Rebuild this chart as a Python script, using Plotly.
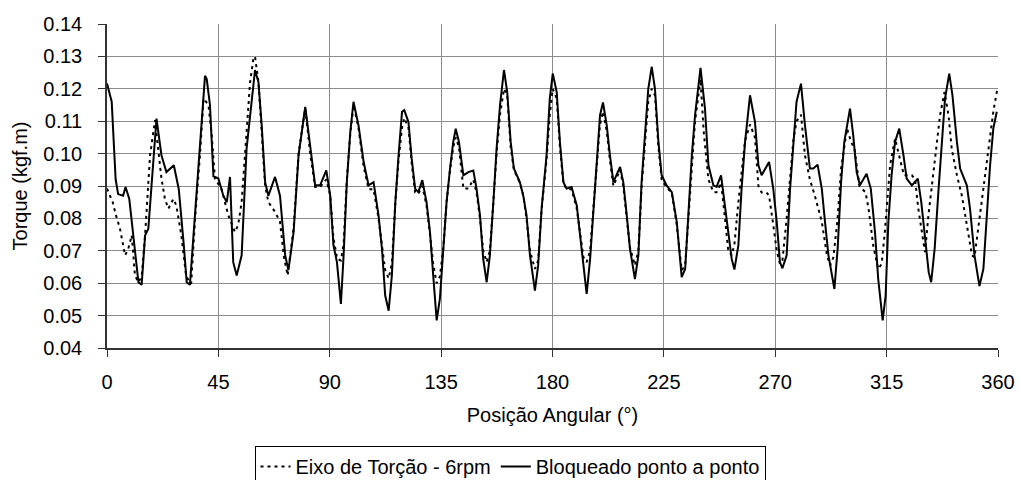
import plotly.graph_objects as go

# --- Data: Bloqueado ponto a ponto (solid) ---
angle_solid = [0, 1.9, 3.5, 4.5, 6.5, 7.5, 9, 11, 12.7, 14, 15.4, 16.7, 18.5, 20, 22, 24, 27, 29, 31, 32.2,
               33.5, 35.6, 37.6, 39.6, 40.3, 41.6, 43, 45, 47, 48.4, 49.7, 51, 52.4, 54.4, 56.4, 57.8, 59.8,
               61.2, 62.5, 63.9, 65.2, 67.9, 69.9, 72, 73.3, 75.4, 77.4, 80.1, 82.1, 84.1, 86.1, 88.6, 90.2,
               91.5, 92.9, 94.5, 95.6, 96.9, 98.3, 99.6, 101.6, 103.7, 105.7, 107.7, 109.7, 111.1, 112.4,
               113.8, 115.1, 116.5, 117.8, 119.2, 120.1, 121.8, 123.1, 124.5, 125.8, 127.4, 129.1, 130.5,
               131.8, 133.2, 134.5, 135.9, 137.2, 138.6, 139.9, 140.9, 142.2, 144, 146, 148, 149.3, 150.7,
               152, 153.4, 154.7, 156.1, 157.4, 158.8, 160.4, 161.7, 163.1, 164.4, 166.8, 168.2, 169.5,
               170.9, 172.9, 174.2, 175.6, 177.6, 178.9, 180.1, 181.7, 183, 184.4, 185.7, 187.7, 189.8,
               191.1, 192.5, 193.8, 195.2, 196.5, 197.9, 199.2, 200.4, 201.9, 203.2, 204.6, 207.3, 208.6,
               210, 211.3, 213.3, 214.7, 216, 217.4, 218.7, 220.1, 221.4, 222.8, 224.1, 226.1, 228.2, 230.2,
               231.5, 232.2, 233.6, 234.9, 236.3, 237.6, 239.8, 241.6, 243, 245, 246.3, 248.1, 249.7, 251,
               252.4, 253.5, 255.1, 256.4, 257.8, 259.8, 261.8, 263.2, 264.5, 267.5, 269.2, 270.6, 271.9,
               272.9, 274.6, 276, 277.3, 278.6, 280.4, 282, 284, 285.4, 287.1, 288.8, 290.1, 291.5, 293.9,
               295.2, 296.6, 297.9, 300.2, 301.5, 302.9, 304.2, 306.9, 308.6, 310.3, 311.6, 313.4, 314.6,
               315.7, 317, 318.4, 320.1, 321.8, 323.1, 325.2, 327.6, 329, 330.6, 332, 333, 334.4, 336,
               337.3, 338.6, 340.3, 341.6, 343.4, 344.7, 347.4, 348.7, 350.5, 352.5, 354.1, 355.4, 356.8,
               358.1, 359.5]
torque_solid = [0.1216, 0.116, 0.092, 0.0875, 0.087, 0.0897, 0.086, 0.072, 0.0603, 0.0595, 0.0748, 0.0768,
                0.095, 0.1108, 0.0995, 0.0943, 0.0964, 0.089, 0.072, 0.0603, 0.0595, 0.081, 0.1015, 0.124,
                0.123, 0.115, 0.093, 0.0923, 0.087, 0.085, 0.0928, 0.0665, 0.0624, 0.0686, 0.1015, 0.112,
                0.1258, 0.122, 0.1088, 0.0912, 0.087, 0.0928, 0.087, 0.0686, 0.064, 0.0758, 0.0995, 0.1144,
                0.1015, 0.0902, 0.0902, 0.0948, 0.087, 0.0717, 0.0665, 0.0536, 0.0686, 0.0912, 0.1067,
                0.116, 0.1088, 0.0974, 0.0902, 0.0912, 0.081, 0.0706, 0.0562, 0.0515, 0.0624, 0.085,
                0.0995, 0.1129, 0.1134, 0.1098, 0.0985, 0.0892, 0.0881, 0.0918, 0.085, 0.0758, 0.0624,
                0.0485, 0.0552, 0.0706, 0.085, 0.0954, 0.1036, 0.1077, 0.1036, 0.0933, 0.0943, 0.0948,
                0.0892, 0.081, 0.0675, 0.0603, 0.0686, 0.085, 0.1015, 0.115, 0.1258, 0.119, 0.1036, 0.0954,
                0.0912, 0.087, 0.081, 0.0686, 0.0577, 0.0655, 0.083, 0.0995, 0.117, 0.1247, 0.119, 0.1036,
                0.0912, 0.0892, 0.0897, 0.084, 0.0747, 0.0644, 0.0567, 0.0675, 0.083, 0.0985, 0.1119,
                0.1158, 0.1088, 0.0995, 0.0912, 0.0959, 0.0912, 0.081, 0.0706, 0.0613, 0.0686, 0.0912,
                0.1077, 0.12, 0.1268, 0.12, 0.1036, 0.0933, 0.0902, 0.0881, 0.0789, 0.0686, 0.0619, 0.0644,
                0.081, 0.0995, 0.1119, 0.1265, 0.114, 0.0964, 0.0902, 0.0897, 0.0933, 0.083, 0.0747,
                0.0675, 0.0642, 0.0717, 0.0892, 0.1036, 0.118, 0.1098, 0.0964, 0.0933, 0.0974, 0.0892,
                0.0789, 0.0665, 0.0646, 0.0686, 0.0892, 0.1015, 0.116, 0.1216, 0.1088, 0.0954, 0.0954,
                0.0966, 0.0892, 0.0789, 0.0686, 0.0582, 0.0706, 0.0912, 0.1036, 0.1139, 0.1057, 0.0943,
                0.0902, 0.0938, 0.0892, 0.0758, 0.0613, 0.0485, 0.0562, 0.0789, 0.0933, 0.1036, 0.1077,
                0.0995, 0.0923, 0.0902, 0.0923, 0.085, 0.0727, 0.0634, 0.0603, 0.0706, 0.0892, 0.1046,
                0.117, 0.1247, 0.118, 0.1036, 0.0954, 0.0902, 0.083, 0.0686, 0.0591, 0.0644, 0.081, 0.0964,
                0.1077, 0.1129]

# --- Data: Eixo de Torção - 6rpm (dashed) ---
angle_dash = [0, 2.3, 3.6, 5.2, 7.3, 8.6, 10, 11.3, 12.7, 14, 15.4, 17.4, 19.4, 21, 22, 23.4, 24.8, 26.8,
              28, 30, 32, 34, 35.6, 37.6, 39, 41, 42.3, 43.6, 46.3, 49, 51.7, 53, 54.4, 56.4, 57.8, 59.1,
              59.8, 61.2, 62.5, 63.9, 65.2, 67.9, 69.9, 71.5, 73, 75.4, 77.4, 80.1, 82.1, 84.1, 86.1, 88.6,
              90.2, 91.5, 93, 94.5, 95.6, 96.9, 98.3, 99.6, 101.6, 103.7, 105.7, 107.7, 109.7, 111.1,
              112.4, 113.8, 115.1, 116.5, 117.8, 119.2, 120.1, 121.8, 123.1, 124.5, 125.8, 127.4, 129.1,
              130.5, 131.8, 133.2, 134.5, 135.9, 137.2, 138.6, 139.9, 140.9, 142.2, 144, 146, 148, 149.3,
              150.7, 152, 153.4, 154.7, 156.1, 157.4, 158.8, 160.4, 161.7, 163.1, 164.4, 166.8, 168.2,
              169.5, 170.9, 172.9, 174.2, 175.6, 177.6, 178.9, 180.1, 181.7, 183, 184.4, 185.7, 187.7,
              189.8, 191.1, 192.5, 193.8, 195.2, 196.5, 197.9, 199.2, 200.4, 201.9, 203.2, 204.6, 207.3,
              208.6, 210, 211.3, 213.3, 214.7, 216, 217.4, 218.7, 220.1, 221.4, 222.8, 224.1, 226.1,
              228.2, 230.2, 231.5, 232.2, 233.6, 234.9, 236.3, 237.6, 239.8, 241.1, 243, 245, 246.3,
              248.1, 249.7, 251, 252.4, 253.5, 255.1, 256.4, 257.8, 259.8, 261.8, 263.2, 264.5, 266.5,
              267.5, 269.2, 270.6, 271.9, 272.9, 274.6, 276, 277.3, 278.6, 280.4, 282, 284, 286, 288.8,
              290.9, 292.2, 293.5, 295.2, 296.6, 299, 300.7, 302, 304, 306.5, 307.7, 309.6, 311.6, 313,
              314.3, 316.4, 318.4, 320, 322, 325.2, 326.5, 327.8, 329.1, 330.5, 331.9, 333.5, 335.2,
              336.6, 338.4, 340, 341.3, 343.4, 345.4, 346.8, 348.1, 349.5, 350.5, 352, 354.1, 356.1,
              358.1, 359.5, 360]
torque_dash = [0.0892, 0.085, 0.081, 0.077, 0.0686, 0.0706, 0.0748, 0.0624, 0.0603, 0.062, 0.075, 0.0995,
               0.1103, 0.1, 0.0923, 0.086, 0.083, 0.086, 0.084, 0.075, 0.062, 0.0598, 0.08, 0.1, 0.117,
               0.115, 0.1057, 0.0923, 0.089, 0.081, 0.0758, 0.078, 0.085, 0.1067, 0.122, 0.129, 0.13,
               0.122, 0.105, 0.09, 0.085, 0.082, 0.079, 0.068, 0.0624, 0.077, 0.1, 0.114, 0.1, 0.0897,
               0.0897, 0.092, 0.087, 0.074, 0.0675, 0.067, 0.072, 0.092, 0.106, 0.115, 0.108, 0.096,
               0.089, 0.089, 0.08, 0.071, 0.064, 0.0615, 0.066, 0.085, 0.098, 0.108, 0.111, 0.108, 0.097,
               0.088, 0.0876, 0.09, 0.084, 0.075, 0.066, 0.06, 0.062, 0.071, 0.085, 0.095, 0.102, 0.105,
               0.102, 0.0892, 0.0892, 0.092, 0.088, 0.08, 0.07, 0.0665, 0.07, 0.085, 0.1, 0.112, 0.12,
               0.118, 0.102, 0.095, 0.091, 0.087, 0.08, 0.07, 0.0644, 0.067, 0.083, 0.098, 0.112, 0.12,
               0.117, 0.102, 0.091, 0.089, 0.089, 0.083, 0.075, 0.068, 0.0665, 0.07, 0.083, 0.097, 0.109,
               0.113, 0.107, 0.098, 0.09, 0.095, 0.09, 0.08, 0.071, 0.0655, 0.07, 0.09, 0.105, 0.116,
               0.12, 0.118, 0.102, 0.092, 0.0895, 0.088, 0.078, 0.069, 0.064, 0.0655, 0.08, 0.098, 0.11,
               0.123, 0.1067, 0.092, 0.0881, 0.0881, 0.091, 0.08, 0.07, 0.0686, 0.072, 0.085, 0.095,
               0.104, 0.109, 0.105, 0.09, 0.088, 0.088, 0.087, 0.078, 0.07, 0.066, 0.067, 0.08, 0.093,
               0.104, 0.11, 0.112, 0.0995, 0.092, 0.087, 0.079, 0.0686, 0.0655, 0.068, 0.08, 0.0954,
               0.1077, 0.1035, 0.1015, 0.09, 0.088, 0.083, 0.0716, 0.0644, 0.066, 0.076, 0.0964, 0.1046,
               0.0995, 0.0933, 0.0933, 0.092, 0.083, 0.0758, 0.0696, 0.081, 0.0912, 0.1015, 0.1119,
               0.119, 0.1119, 0.1015, 0.0933, 0.087, 0.081, 0.0758, 0.0686, 0.068, 0.0768, 0.0892,
               0.1015, 0.1129, 0.119, 0.12]

x_ticks = [0, 45, 90, 135, 180, 225, 270, 315, 360]
y_ticks = [0.04, 0.05, 0.06, 0.07, 0.08, 0.09, 0.10, 0.11, 0.12, 0.13, 0.14]
y_tick_text = ["0.04", "0.05", "0.06", "0.07", "0.08", "0.09", "0.10", "0.11", "0.12", "0.13", "0.14"]

FONT = "Liberation Sans, Arial, sans-serif"
FS = 20

fig = go.Figure()
fig.add_trace(go.Scatter(x=angle_dash, y=torque_dash, mode="lines",
                         name="Eixo de Torção - 6rpm",
                         line=dict(color="black", width=2, dash="3px,4px")))
fig.add_trace(go.Scatter(x=angle_solid, y=torque_solid, mode="lines",
                         name="Bloqueado ponto a ponto",
                         line=dict(color="black", width=2)))

fig.update_layout(
    width=1020, height=480,
    margin=dict(l=107, r=22, t=24, b=132, autoexpand=False),
    paper_bgcolor="white", plot_bgcolor="white",
    font=dict(family=FONT, size=FS, color="black"),
    showlegend=True,
    legend=dict(orientation="h", xref="container", yref="container",
                x=0.5, xanchor="center", y=1 - 446 / 480, yanchor="top",
                bordercolor="black", borderwidth=1, bgcolor="white",
                font=dict(family=FONT, size=FS, color="black"),
                itemwidth=30, tracegroupgap=0),
)
fig.update_xaxes(range=[0, 360], tickvals=x_ticks, ticktext=[str(v) for v in x_ticks],
                 automargin=False,
                 showgrid=True, gridcolor="#8c8c8c", gridwidth=1,
                 showline=True, linecolor="#333333", linewidth=1.5,
                 ticks="outside", ticklen=7, tickcolor="#333333",
                 ticklabelstandoff=8, zeroline=False,
                 tickfont=dict(family=FONT, size=FS),
                 title=dict(text="Posição Angular (°)", standoff=16,
                            font=dict(family=FONT, size=FS)))
fig.update_yaxes(range=[0.04, 0.14], tickvals=y_ticks, ticktext=y_tick_text,
                 automargin=False,
                 showgrid=True, gridcolor="#8c8c8c", gridwidth=1,
                 showline=True, linecolor="#333333", linewidth=1.5,
                 ticks="outside", ticklen=7, tickcolor="#333333",
                 ticklabelstandoff=12, zeroline=False,
                 tickfont=dict(family=FONT, size=FS),
                 title=dict(text="Torque (kgf.m)", standoff=10,
                            font=dict(family=FONT, size=FS)))

fig.write_html("out.html", config={"displayModeBar": False},
               post_script="document.body.style.margin='0';document.body.style.overflow='hidden';")
